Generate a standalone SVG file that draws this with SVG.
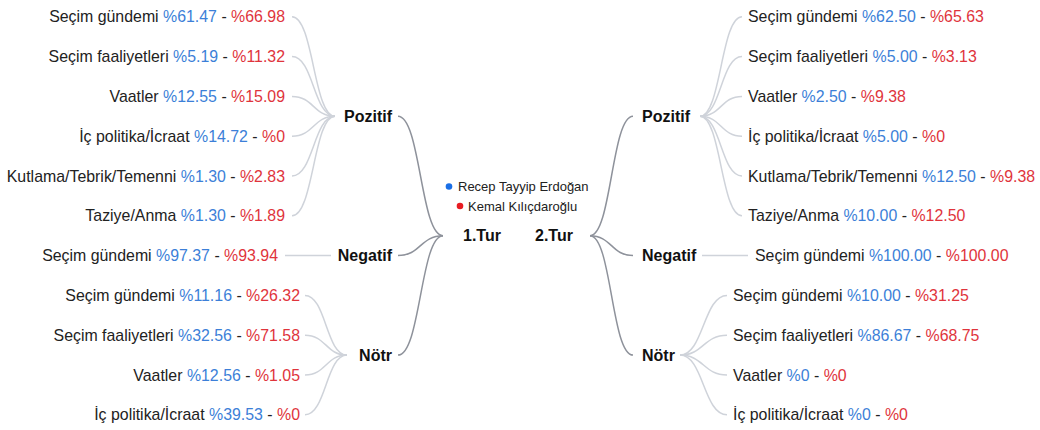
<svg xmlns="http://www.w3.org/2000/svg" width="1040" height="430" viewBox="0 0 1040 430">
<style>
.t{font-family:"Liberation Sans",Arial,sans-serif;font-size:15.9px;fill:#222}
.l{font-family:"Liberation Sans",Arial,sans-serif;font-size:16px;font-weight:bold;fill:#111}
.lg{font-family:"Liberation Sans",Arial,sans-serif;font-size:13px;fill:#222}
.b{fill:#3c7fd8}
.r{fill:#e0343c}
.e{text-anchor:end}
.c1{fill:none;stroke:#cfd3da;stroke-width:1.5}
.c0{fill:none;stroke:#8e929b;stroke-width:1.5}
</style>
<rect width="1040" height="430" fill="#fff"/>
<g id="connectors">
<g class="c1">
<path d="M292,16.8 C313.5,16.8 313.5,116.3 335,116.3"/>
<path d="M292,56.6 C313.5,56.6 313.5,116.3 335,116.3"/>
<path d="M292,96.4 C313.5,96.4 313.5,116.3 335,116.3"/>
<path d="M292,136.2 C313.5,136.2 313.5,116.3 335,116.3"/>
<path d="M292,176 C313.5,176 313.5,116.3 335,116.3"/>
<path d="M292,215.8 C313.5,215.8 313.5,116.3 335,116.3"/>
<path d="M285,255.6 H331"/>
<path d="M305,295.4 C326,295.4 326,355.1 347,355.1"/>
<path d="M305,335.2 C326,335.2 326,355.1 347,355.1"/>
<path d="M305,375 C326,375 326,355.1 347,355.1"/>
<path d="M305,414.8 C326,414.8 326,355.1 347,355.1"/>
<path d="M700,116.3 C721,116.3 721,16.8 742,16.8"/>
<path d="M700,116.3 C721,116.3 721,56.6 742,56.6"/>
<path d="M700,116.3 C721,116.3 721,96.4 742,96.4"/>
<path d="M700,116.3 C721,116.3 721,136.2 742,136.2"/>
<path d="M700,116.3 C721,116.3 721,176 742,176"/>
<path d="M700,116.3 C721,116.3 721,215.8 742,215.8"/>
<path d="M702,255.6 H748"/>
<path d="M680,355.1 C703.5,355.1 703.5,295.4 727,295.4"/>
<path d="M680,355.1 C703.5,355.1 703.5,335.2 727,335.2"/>
<path d="M680,355.1 C703.5,355.1 703.5,375 727,375"/>
<path d="M680,355.1 C703.5,355.1 703.5,414.8 727,414.8"/>
</g>
<g class="c0">
<path d="M398,116.3 C420.5,116.3 420.5,235.7 443,235.7"/>
<path d="M398,255.6 C420.5,255.6 420.5,235.7 443,235.7"/>
<path d="M398,355.1 C420.5,355.1 420.5,235.7 443,235.7"/>
<path d="M590,235.7 C611.5,235.7 611.5,116.3 633,116.3"/>
<path d="M590,235.7 C611.5,235.7 611.5,255.6 633,255.6"/>
<path d="M590,235.7 C611.5,235.7 611.5,355.1 633,355.1"/>
</g>
</g>
<g id="legend">
<circle cx="449" cy="186.5" r="3.3" fill="#1a6fe6"/>
<text class="lg" x="458" y="190.7">Recep Tayyip Erdoğan</text>
<circle cx="460" cy="206" r="3.3" fill="#e81c22"/>
<text class="lg" x="468" y="210.7">Kemal Kılıçdaroğlu</text>
</g>
<g id="tur1"><text class="l" x="463" y="240.8">1.Tur</text></g>
<g id="tur2"><text class="l" x="535" y="240.8">2.Tur</text></g>
<g id="l-pozitif"><text class="l e" x="392" y="121.8">Pozitif</text></g>
<g id="l-negatif"><text class="l e" x="392" y="261.1">Negatif</text></g>
<g id="l-notr"><text class="l e" x="392" y="360.6">Nötr</text></g>
<g id="r-pozitif"><text class="l" x="642" y="121.8">Pozitif</text></g>
<g id="r-negatif"><text class="l" x="642" y="261.1">Negatif</text></g>
<g id="r-notr"><text class="l" x="642" y="360.6">Nötr</text></g>
<g id="l-p1"><text class="t e" x="285" y="22.3">Seçim gündemi <tspan class="b">%61.47</tspan> - <tspan class="r">%66.98</tspan></text></g>
<g id="l-p2"><text class="t e" x="285" y="62.1">Seçim faaliyetleri <tspan class="b">%5.19</tspan> - <tspan class="r">%11.32</tspan></text></g>
<g id="l-p3"><text class="t e" x="285" y="101.9">Vaatler <tspan class="b">%12.55</tspan> - <tspan class="r">%15.09</tspan></text></g>
<g id="l-p4"><text class="t e" x="285" y="141.7">İç politika/İcraat <tspan class="b">%14.72</tspan> - <tspan class="r">%0</tspan></text></g>
<g id="l-p5"><text class="t e" x="285" y="181.5">Kutlama/Tebrik/Temenni <tspan class="b">%1.30</tspan> - <tspan class="r">%2.83</tspan></text></g>
<g id="l-p6"><text class="t e" x="285" y="221.3">Taziye/Anma <tspan class="b">%1.30</tspan> - <tspan class="r">%1.89</tspan></text></g>
<g id="l-n1"><text class="t e" x="278" y="261.1">Seçim gündemi <tspan class="b">%97.37</tspan> - <tspan class="r">%93.94</tspan></text></g>
<g id="l-o1"><text class="t e" x="300" y="300.9">Seçim gündemi <tspan class="b">%11.16</tspan> - <tspan class="r">%26.32</tspan></text></g>
<g id="l-o2"><text class="t e" x="300" y="340.7">Seçim faaliyetleri <tspan class="b">%32.56</tspan> - <tspan class="r">%71.58</tspan></text></g>
<g id="l-o3"><text class="t e" x="300" y="380.5">Vaatler <tspan class="b">%12.56</tspan> - <tspan class="r">%1.05</tspan></text></g>
<g id="l-o4"><text class="t e" x="300" y="420.3">İç politika/İcraat <tspan class="b">%39.53</tspan> - <tspan class="r">%0</tspan></text></g>
<g id="r-p1"><text class="t" x="748" y="22.3">Seçim gündemi <tspan class="b">%62.50</tspan> - <tspan class="r">%65.63</tspan></text></g>
<g id="r-p2"><text class="t" x="748" y="62.1">Seçim faaliyetleri <tspan class="b">%5.00</tspan> - <tspan class="r">%3.13</tspan></text></g>
<g id="r-p3"><text class="t" x="748" y="101.9">Vaatler <tspan class="b">%2.50</tspan> - <tspan class="r">%9.38</tspan></text></g>
<g id="r-p4"><text class="t" x="748" y="141.7">İç politika/İcraat <tspan class="b">%5.00</tspan> - <tspan class="r">%0</tspan></text></g>
<g id="r-p5"><text class="t" x="748" y="181.5">Kutlama/Tebrik/Temenni <tspan class="b">%12.50</tspan> - <tspan class="r">%9.38</tspan></text></g>
<g id="r-p6"><text class="t" x="748" y="221.3">Taziye/Anma <tspan class="b">%10.00</tspan> - <tspan class="r">%12.50</tspan></text></g>
<g id="r-n1"><text class="t" x="755" y="261.1">Seçim gündemi <tspan class="b">%100.00</tspan> - <tspan class="r">%100.00</tspan></text></g>
<g id="r-o1"><text class="t" x="733" y="300.9">Seçim gündemi <tspan class="b">%10.00</tspan> - <tspan class="r">%31.25</tspan></text></g>
<g id="r-o2"><text class="t" x="733" y="340.7">Seçim faaliyetleri <tspan class="b">%86.67</tspan> - <tspan class="r">%68.75</tspan></text></g>
<g id="r-o3"><text class="t" x="733" y="380.5">Vaatler <tspan class="b">%0</tspan> - <tspan class="r">%0</tspan></text></g>
<g id="r-o4"><text class="t" x="733" y="420.3">İç politika/İcraat <tspan class="b">%0</tspan> - <tspan class="r">%0</tspan></text></g>
</svg>
